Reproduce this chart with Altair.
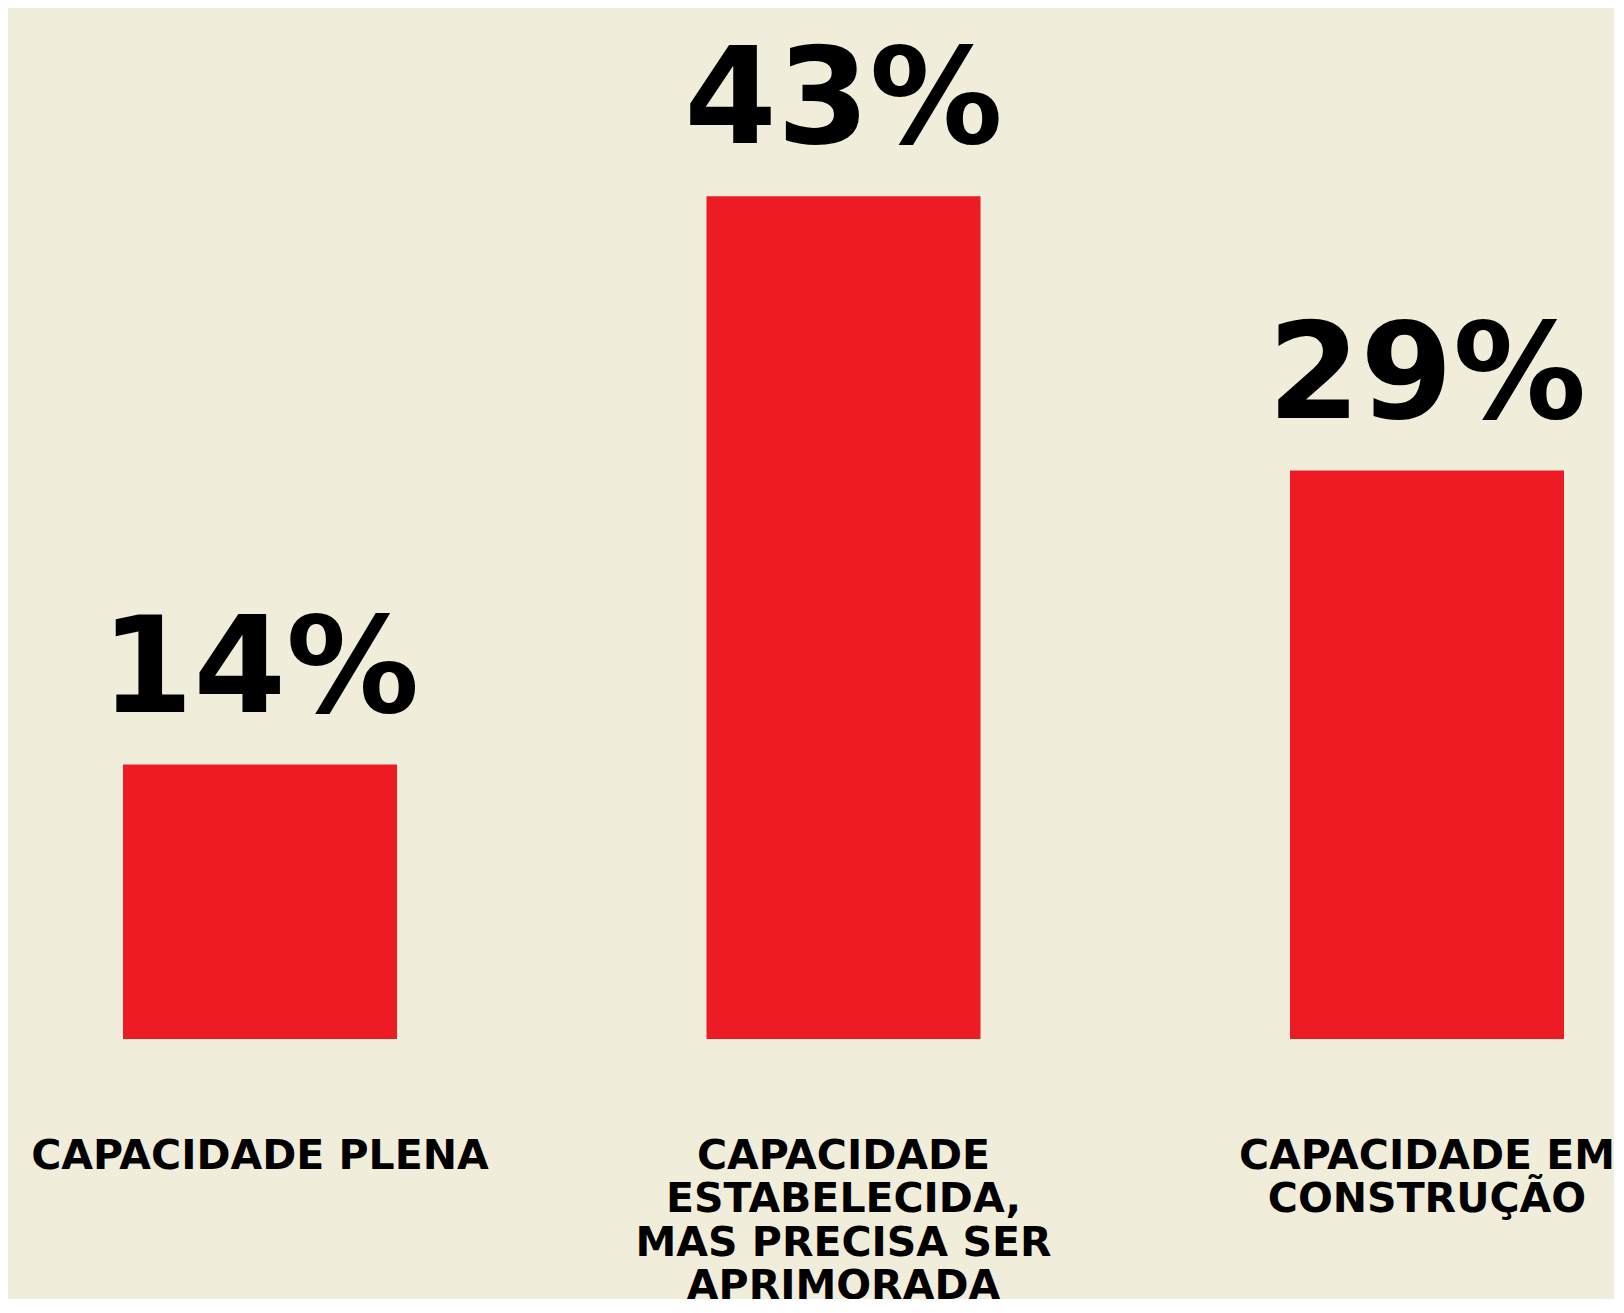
import altair as alt
import pandas as pd

categories = [
    "CAPACIDADE PLENA",
    "CAPACIDADE|ESTABELECIDA,|MAS PRECISA SER|APRIMORADA",
    "CAPACIDADE EM|CONSTRUÇÃO",
]
values = [14, 43, 29]
labels = ["14%", "43%", "29%"]

df = pd.DataFrame({"cat": categories, "value": values, "label": labels})

x = alt.X(
    "cat:N",
    sort=categories,
    scale=alt.Scale(paddingInner=0.5304, paddingOuter=0.1414, align=0.697),
    axis=alt.Axis(
        title=None, domain=False, ticks=False, tickSize=0, grid=False,
        labelPadding=129, labelAngle=0, labelFont="DejaVu Sans",
        labelFontWeight="bold", labelFontSize=41, labelColor="#000000",
        labelLineHeight=43.5, labelBaseline="alphabetic", labelLimit=0,
        labelOverlap=False, labelBound=False, labelFlush=False,
        labelAlign="center", labelExpr="split(datum.label, '|')",
    ),
)
y = alt.Y("value:Q", scale=alt.Scale(domain=[0, 52.6], nice=False, zero=True), axis=None)

bars = alt.Chart(df).mark_bar(color="#ED1C24").encode(x=x, y=y)
text = alt.Chart(df).mark_text(
    font="DejaVu Sans", fontWeight="bold", fontSize=133,
    baseline="alphabetic", align="center", dy=-53, color="#000000",
).encode(x=x, y=y, text="label:N")

chart = (
    alt.layer(bars, text)
    .properties(
        width=1606, height=1031, autosize="none",
        padding={"left": 0, "right": 0, "top": 0, "bottom": 260},
    )
    .configure(background="#F0EEDB")
    .configure_view(strokeWidth=0)
)

chart.save("out.html", embed_options={"renderer": "svg", "actions": False})
